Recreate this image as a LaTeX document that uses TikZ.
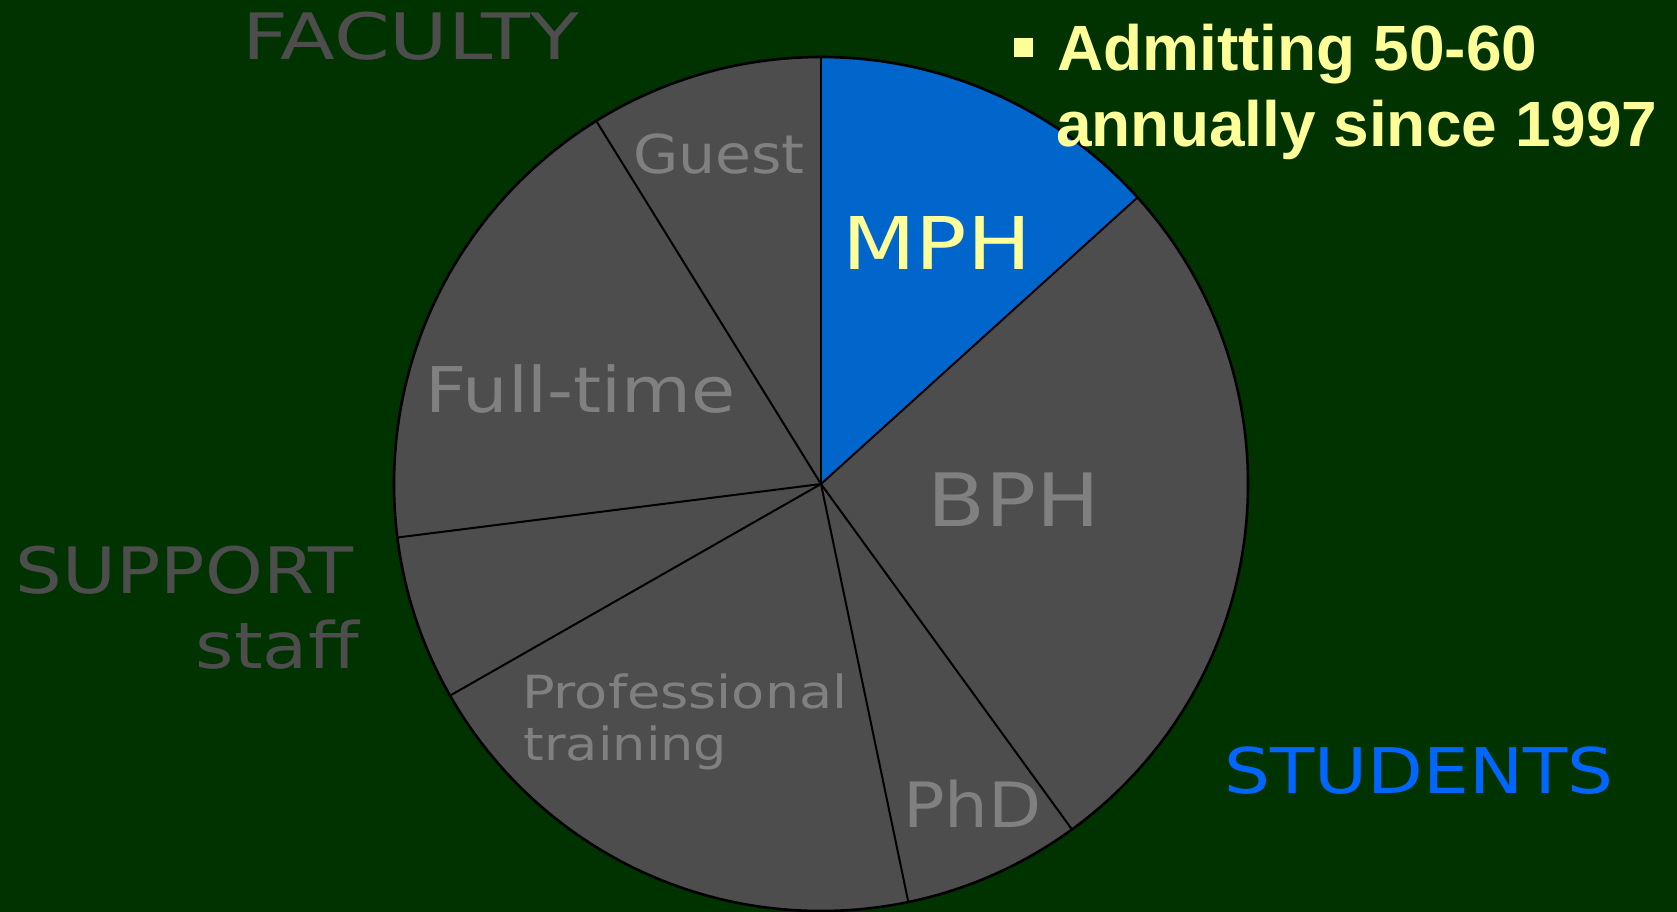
\documentclass[tikz,border=0pt]{standalone}
\usepackage{fontspec}
\usepackage{graphicx}
\newfontfamily\labfont[FakeStretch=1.15]{DejaVu Sans}
\newfontfamily\bulfont{Liberation Sans}
\definecolor{bggreen}{HTML}{003300}
\definecolor{slicegray}{HTML}{4D4D4D}
\definecolor{textgray}{HTML}{808080}
\definecolor{mphblue}{HTML}{0066CC}
\definecolor{stublue}{HTML}{0066FF}
\definecolor{paleyellow}{HTML}{FFFF99}
\tikzset{
  lab/.style={inner sep=0pt, anchor=base west},
  labr/.style={inner sep=0pt, anchor=base east},
  slice/.style={fill=slicegray},
  radial/.style={draw=black, line width=2pt},
  rim/.style={draw=black, line width=2.6pt},
  bullettext/.style={inner sep=0pt, anchor=base west, text=paleyellow,
    font=\bulfont\bfseries\fontsize{64}{76}\selectfont},
}
\begin{document}
\begin{tikzpicture}[x=1pt,y=1pt]
\fill[bggreen] (0,0) rectangle (1677,-912);
\useasboundingbox (0,0) rectangle (1677,-912);
\coordinate (c) at (821,-484);
\def\R{427}
% wedges
\fill[mphblue] (c) -- ++(90:\R) arc[start angle=90,end angle=42.16,radius=\R] -- cycle;
\fill[slice] (c) -- ++(42.16:\R) arc[start angle=42.16,end angle=-54.0,radius=\R] -- cycle;
\fill[slice] (c) -- ++(-54.0:\R) arc[start angle=-54.0,end angle=-78.2,radius=\R] -- cycle;
\fill[slice] (c) -- ++(-78.2:\R) arc[start angle=-78.2,end angle=-150.3,radius=\R] -- cycle;
\fill[slice] (c) -- ++(-150.3:\R) arc[start angle=-150.3,end angle=-172.8,radius=\R] -- cycle;
\fill[slice] (c) -- ++(-172.8:\R) arc[start angle=-172.8,end angle=-238.24,radius=\R] -- cycle;
\fill[slice] (c) -- ++(121.76:\R) arc[start angle=121.76,end angle=90,radius=\R] -- cycle;
\foreach \a in {90,42.16,-54.0,-78.2,-150.3,-172.8,121.76}
  \draw[radial] (c) -- ++(\a:\R);
\draw[rim] (c) circle[radius=\R];
% labels in slices
\node[lab, text=textgray, font=\labfont\fontsize{53.5}{60}\selectfont] (guest) at (633,-174) {\scalebox{0.95}[1]{Guest}};
\node[lab, text=paleyellow, font=\labfont\fontsize{72.7}{80}\selectfont] (mph) at (842,-269) {\scalebox{1.02}[1]{MPH}};
\node[lab, text=textgray, font=\labfont\fontsize{63}{70}\selectfont] (fulltime) at (425,-412.3) {\scalebox{0.99}[1]{Full-time}};
\node[lab, text=textgray, font=\labfont\fontsize{73.6}{80}\selectfont] (bph) at (927.5,-526) {BPH};
\node[lab, text=textgray, font=\labfont\fontsize{45.7}{52}\selectfont] (prof) at (522,-708.3) {\scalebox{1.03}[1]{Professional}};
\node[lab, text=textgray, font=\labfont\fontsize{45.7}{52}\selectfont] (training) at (523.5,-760) {training};
\node[lab, text=textgray, font=\labfont\fontsize{62.5}{70}\selectfont] (phd) at (903,-827.3) {\scalebox{0.96}[1]{PhD}};
% outside labels
\node[lab, text=slicegray, font=\labfont\fontsize{64}{70}\selectfont] (faculty) at (242,-59.3) {\scalebox{1.085}[1]{FACULTY}};
\node[labr, text=slicegray, font=\labfont\fontsize{64}{70}\selectfont] (support) at (354,-593.3) {SUPPORT};
\node[labr, text=slicegray, font=\labfont\fontsize{64}{70}\selectfont] (staff) at (359,-668) {staff};
\node[lab, text=stublue, font=\labfont\fontsize{63}{70}\selectfont] (students) at (1224,-793.3) {STUDENTS};
% bullet
\node[fill=paleyellow, inner sep=0pt, minimum width=18.4pt, minimum height=18.4pt] (bullet) at (1023.3,-47.5) {};
\node[bullettext] (line1) at (1057,-70.7) {Admitting 50-60};
\node[bullettext] (line2) at (1056,-146.7) {annually since 1997};
\end{tikzpicture}
\end{document}
